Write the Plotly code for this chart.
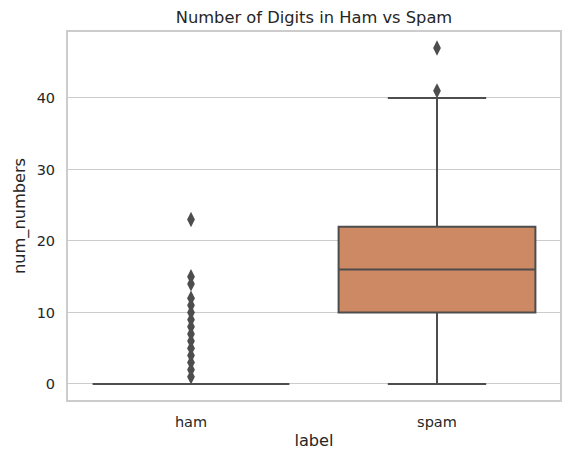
import plotly.graph_objects as go

categories = ["ham", "spam"]
q1 = [0, 10]
medians = [0, 16]
q3 = [0, 22]
lower_whisker = [0, 0]
upper_whisker = [0, 40]
ham_outliers = [1, 2, 3, 4, 5, 6, 7, 8, 9, 10, 11, 12, 14, 15, 23]
spam_outliers = [41, 47]
fills = ["#5078a8", "#cd8963"]

LINE = "#4d4d4d"
TEXT = "#262626"
FONT = "DejaVu Sans"

# page body has an 8px margin, so the figure is sized to fit inside it
W, H = 564, 455

fig = go.Figure()

for i, cat in enumerate(categories):
    fig.add_trace(
        go.Box(
            x=[cat],
            q1=[q1[i]],
            median=[medians[i]],
            q3=[q3[i]],
            lowerfence=[lower_whisker[i]],
            upperfence=[upper_whisker[i]],
            width=0.8,
            whiskerwidth=0.5,
            fillcolor=fills[i],
            line=dict(color=LINE, width=2),
            boxpoints=False,
            hoverinfo="skip",
            showlegend=False,
        )
    )

for cat, vals in [("ham", ham_outliers), ("spam", spam_outliers)]:
    fig.add_trace(
        go.Scatter(
            x=[cat] * len(vals),
            y=vals,
            mode="markers",
            marker=dict(symbol="diamond-tall", size=11, color=LINE),
            showlegend=False,
        )
    )

fig.update_layout(
    width=W,
    height=H,
    margin=dict(l=58, r=10, t=24, b=63),
    plot_bgcolor="white",
    paper_bgcolor="white",
    font=dict(family=FONT, size=14.5, color=TEXT),
    title=dict(
        text="Number of Digits in Ham vs Spam",
        x=0.5,
        xanchor="center",
        xref="paper",
        y=1 - 9 / H,
        yanchor="middle",
        font=dict(size=16.3, color=TEXT),
    ),
)
fig.update_xaxes(
    type="category",
    categoryarray=categories,
    range=[-0.5, 1.5],
    showgrid=False,
    showline=True,
    linecolor="#cccccc",
    linewidth=2,
    mirror=True,
    ticks="outside",
    ticklen=8,
    tickcolor="rgba(0,0,0,0)",
    title=dict(text="label", font=dict(size=16.2), standoff=5),
)
fig.update_yaxes(
    range=[-2.24, 49.23],
    tickvals=[0, 10, 20, 30, 40],
    showgrid=True,
    gridcolor="#cccccc",
    gridwidth=1.2,
    zeroline=False,
    showline=True,
    linecolor="#cccccc",
    linewidth=2,
    mirror=True,
    ticks="outside",
    ticklen=8,
    tickcolor="rgba(0,0,0,0)",
    title=dict(text="num_numbers", font=dict(size=16.2), standoff=7),
)

fig.write_html("out.html")
